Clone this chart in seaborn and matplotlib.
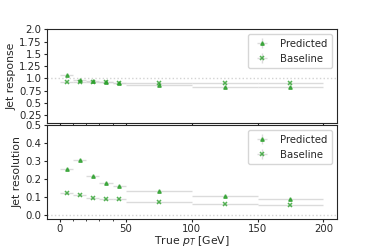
import numpy as np
import matplotlib
matplotlib.use("Agg")
import matplotlib.pyplot as plt
import seaborn as sns

bin_edges = [0, 10, 20, 30, 40, 50, 100, 150, 200]

resp_predicted = [1.08, 0.96, 0.94, 0.92, 0.90, 0.86, 0.82, 0.82]
resp_baseline = [0.93, 0.92, 0.93, 0.92, 0.91, 0.91, 0.91, 0.90]
resol_predicted = [0.259, 0.306, 0.216, 0.179, 0.164, 0.135, 0.105, 0.092]
resol_baseline = [0.122, 0.113, 0.094, 0.088, 0.092, 0.071, 0.062, 0.055]
resp_err = [0.01, 0.01, 0.01, 0.008, 0.008, 0.006, 0.006, 0.006]
resol_err = [0.004, 0.004, 0.003, 0.003, 0.003, 0.002, 0.002, 0.002]

FS = 7.3


def plot_panel(ax, pred, base, err):
    green = sns.color_palette("tab10")[2]
    ax.errorbar(centers, pred, xerr=halfw, yerr=err, fmt="^", ms=2.5, color=green,
                ecolor="lightgray", elinewidth=1, alpha=0.8, label="Predicted")
    ax.errorbar(centers, base, xerr=halfw, yerr=err, fmt="x", ms=3.5, mew=1.1, color=green,
                ecolor="lightgray", elinewidth=1, alpha=0.8, label="Baseline")
    ax.legend(loc="upper right", fontsize=FS)


if __name__ == "__main__":
    sns.set_style("ticks")
    plt.rcParams["font.size"] = FS
    edges = np.array(bin_edges)
    centers = (edges[1:] + edges[:-1]) / 2
    halfw = (edges[1:] - edges[:-1]) / 2

    fig, (ax1, ax2) = plt.subplots(2, 1, sharex=True, figsize=(3.74, 2.49), dpi=100)
    fig.subplots_adjust(left=0.125, right=0.9, top=0.882, bottom=0.122, hspace=0.03)

    ax1.axhline(1.0, color="lightgray", ls=":", lw=1)
    plot_panel(ax1, resp_predicted, resp_baseline, resp_err)
    ax1.set_ylim(0.1, 2.0)
    ax1.set_yticks([0.25, 0.5, 0.75, 1.0, 1.25, 1.5, 1.75, 2.0])
    ax1.set_yticklabels(["0.25", "0.5", "0.75", "1.0", "1.25", "1.5", "1.75", "2.0"])
    ax1.set_ylabel("Jet response", fontsize=FS + 0.5, labelpad=2)

    ax2.axhline(0.0, color="lightgray", ls=":", lw=1)
    plot_panel(ax2, resol_predicted, resol_baseline, resol_err)
    ax2.set_ylim(-0.02, 0.5)
    ax2.set_yticks([0.0, 0.1, 0.2, 0.3, 0.4, 0.5])
    ax2.set_ylabel("Jet resolution", fontsize=FS + 0.5, labelpad=2)
    ax2.set_xlabel("True $p_T$ [GeV]", fontsize=FS + 0.5, labelpad=0)

    ax2.set_xticks([0, 50, 100, 150, 200])
    ax2.set_xticks([10, 20, 30, 40], minor=True)
    for ax in (ax1, ax2):
        ax.tick_params(which="major", labelsize=FS, length=2.5, pad=1.2)
        ax.tick_params(which="minor", length=1.5)

    fig.savefig("out.png", dpi=100)
